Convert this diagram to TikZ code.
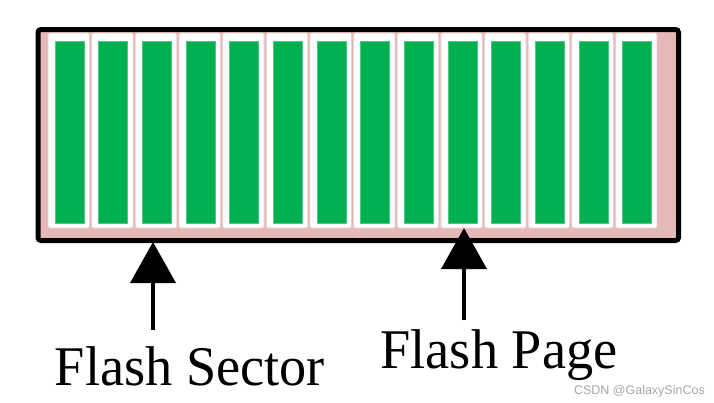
\documentclass[tikz,border=0pt]{standalone}
\usepackage{fontspec}
\setmainfont{Liberation Serif}
\newfontfamily\wmfont{Liberation Sans}
\usetikzlibrary{arrows.meta}
\definecolor{pinkbg}{HTML}{E6B9B8}
\definecolor{celledge}{HTML}{EBCFCE}
\definecolor{bargreen}{HTML}{00B050}
\tikzset{
  outerbox/.style={draw=black, line width=5pt, fill=pinkbg, rounded corners=3pt},
  cellbox/.style={draw=celledge, line width=0.8pt, fill=white, rounded corners=2pt},
  greenbar/.style={fill=bargreen, draw=bargreen!70!white, line width=0.5pt},
  pointer/.style={line width=4pt, -{Triangle[width=45pt,length=41pt]}},
  labeltext/.style={font=\fontsize{56pt}{60pt}\selectfont, xscale=0.97, anchor=base, inner sep=0pt},
}
\begin{document}
\begin{tikzpicture}[x=1pt,y=-1pt]
\useasboundingbox (0,0) rectangle (714,402);
\node[outerbox, minimum width=640.5pt, minimum height=211pt, anchor=north west, inner sep=0pt] (box) at (35.5,27) {};
\foreach \i in {0,...,13} {
  \pgfmathsetmacro{\xx}{48+\i*43.65}
  \draw[cellbox] (\xx,33) rectangle ++(41.5,195);
  \fill[greenbar] (\xx+7,41) rectangle ++(29,182);
}
\node[labeltext] (sector) at (190,385) {Flash Sector};
\node[labeltext] (page) at (499,368) {Flash Page};
\coordinate (sectorfoot) at (153,330);
\coordinate (sectortip) at (153,242);
\coordinate (pagefoot) at (464,320);
\coordinate (pagetip) at (464,228);
\draw[pointer] (sectorfoot) -- (sectortip);
\draw[pointer] (pagefoot) -- (pagetip);
\node[font=\wmfont\fontsize{12.5pt}{14pt}\selectfont, text=black!35, anchor=east, inner sep=0pt] (wm) at (705,391) {CSDN @GalaxySinCos};
\end{tikzpicture}
\end{document}
